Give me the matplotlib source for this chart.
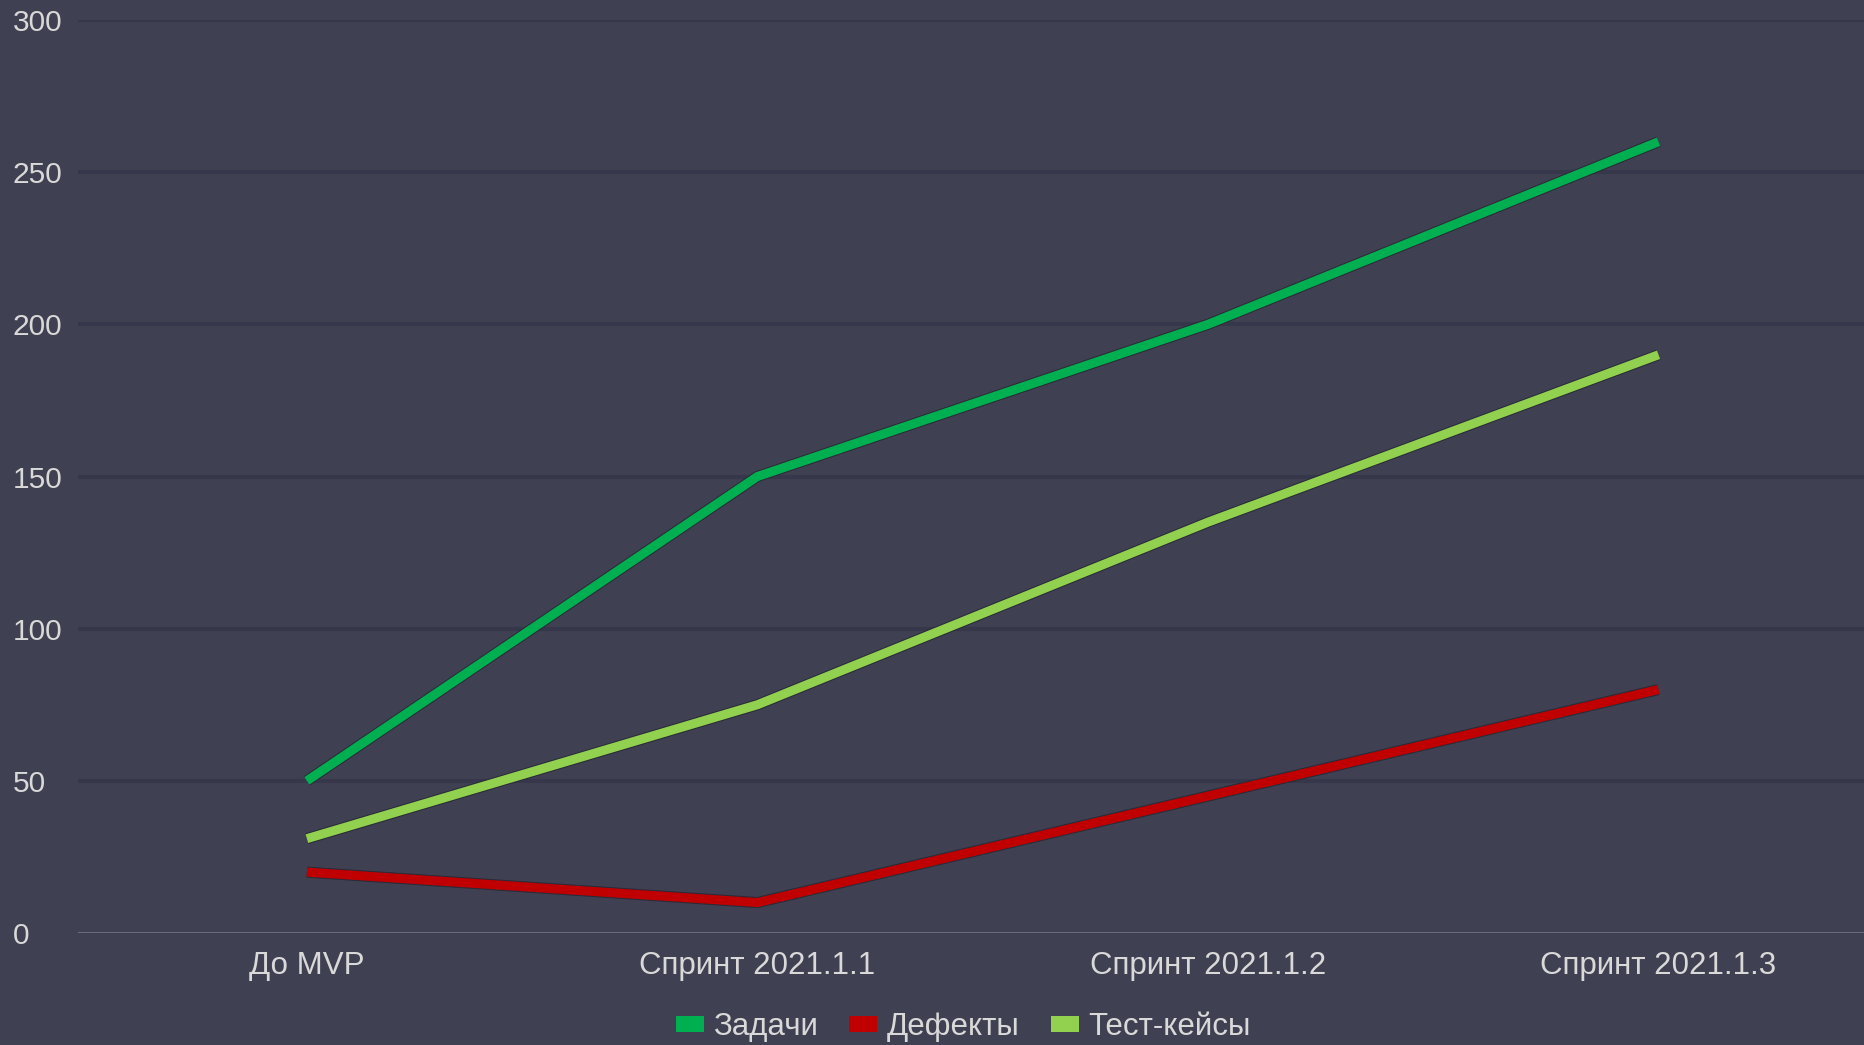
import matplotlib
matplotlib.use("Agg")
import matplotlib.pyplot as plt
import matplotlib.patheffects as pe
from matplotlib.patches import Patch

categories = ["До MVP", "Спринт 2021.1.1", "Спринт 2021.1.2", "Спринт 2021.1.3"]
tasks = [50, 150, 200, 260]
defects = [20, 10, 45, 80]
testcases = [31, 75, 135, 190]
series_names = ["Задачи", "Дефекты", "Тест-кейсы"]
yticks = [0, 50, 100, 150, 200, 250, 300]

bg = "#3f4051"
txt = "#d9d9d9"
colors = ["#00b050", "#c00000", "#92d050"]

plt.rcParams["font.family"] = ["Liberation Sans", "DejaVu Sans"]

fig = plt.figure(figsize=(18.64, 10.45), dpi=100, facecolor=bg)
ax = fig.add_axes([78 / 1864, 1 - 933 / 1045, 1 - 78 / 1864, (933 - 20) / 1045])
ax.set_facecolor(bg)

x = list(range(len(categories)))
outline = [pe.Stroke(linewidth=8, foreground="#2a2b38"), pe.Normal()]
for vals, c in zip([tasks, defects, testcases], colors):
    ax.plot(x, vals, color=c, lw=6.5, solid_capstyle="butt", solid_joinstyle="miter",
            path_effects=outline, zorder=3)

ax.set_ylim(0, 300)
ax.set_xlim(-0.508, 3.456)
ax.set_yticks(yticks)
ax.set_yticklabels([str(v) for v in yticks], ha="left")
ax.set_xticks(x)
ax.set_xticklabels(categories)
ax.tick_params(axis="y", length=0, pad=47, labelsize=21.5, labelcolor=txt)
ax.tick_params(axis="x", length=0, pad=13, labelsize=22.5, labelcolor=txt)

for v in yticks[1:]:
    ax.axhline(v, color="#36374a", lw=3, zorder=1)
ax.axhline(0, color="#6a6b78", lw=1.5, zorder=2)

for s in ax.spines.values():
    s.set_visible(False)

handles = [Patch(facecolor=c, edgecolor="none") for c in colors]
fig.legend(handles, series_names, loc="center", bbox_to_anchor=(963 / 1864, 1 - 1027 / 1045),
           ncol=3, frameon=False, fontsize=22.5, labelcolor=txt,
           handlelength=0.9, handleheight=0.4, handletextpad=0.3,
           columnspacing=1.0, borderpad=0)

fig.savefig("out.png", dpi=100, facecolor=bg)
